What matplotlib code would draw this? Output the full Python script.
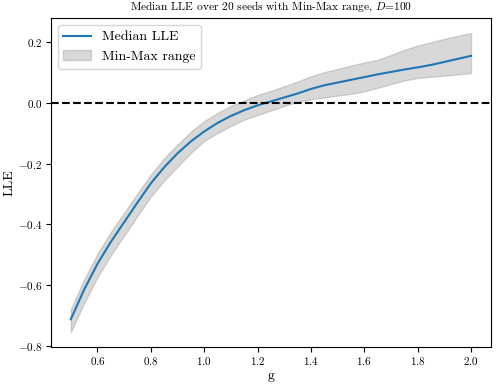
import matplotlib
matplotlib.use("Agg")
import matplotlib.pyplot as plt
import numpy as np

plt.rcParams['font.family'] = 'serif'
plt.rcParams['font.serif'] = ['cmr10', 'DejaVu Serif']
plt.rcParams['mathtext.fontset'] = 'cm'
plt.rcParams['axes.formatter.use_mathtext'] = True

g = np.round(np.arange(0.5, 2.0001, 0.05), 2)
median_lle = [-0.713, -0.615, -0.530, -0.458, -0.393, -0.328, -0.265, -0.212,
              -0.166, -0.127, -0.094, -0.066, -0.043, -0.024, -0.008, 0.005,
              0.018, 0.031, 0.046, 0.058, 0.067, 0.076, 0.085, 0.094, 0.102,
              0.110, 0.117, 0.125, 0.135, 0.145, 0.155]
min_lle = [-0.755, -0.660, -0.574, -0.502, -0.437, -0.372, -0.309, -0.256,
           -0.210, -0.165, -0.125, -0.099, -0.076, -0.055, -0.040, -0.025,
           -0.010, 0.004, 0.012, 0.018, 0.024, 0.030, 0.038, 0.050, 0.062,
           0.074, 0.082, 0.086, 0.090, 0.094, 0.098]
max_lle = [-0.680, -0.582, -0.497, -0.425, -0.362, -0.298, -0.236, -0.182,
           -0.137, -0.095, -0.060, -0.033, -0.010, 0.008, 0.026, 0.040,
           0.055, 0.070, 0.088, 0.101, 0.112, 0.123, 0.133, 0.142, 0.158,
           0.175, 0.189, 0.200, 0.211, 0.221, 0.230]

fig, ax = plt.subplots(figsize=(4.98, 3.86), dpi=100)
fig.subplots_adjust(left=0.102, right=0.986, top=0.953, bottom=0.101)

ax.plot(g, median_lle, color='#1f77b4', lw=1.5, label='Median LLE')
ax.fill_between(g, min_lle, max_lle, color='gray', alpha=0.3, label='Min-Max range')
ax.axhline(0, color='black', ls='--', lw=1.5)

ax.set_title('Median LLE over 20 seeds with Min-Max range, $D$=100', fontsize=8.2)
ax.set_xlabel('g', fontsize=10, labelpad=2)
ax.set_ylabel('LLE', fontsize=10, labelpad=2)
ax.tick_params(labelsize=8, pad=2.5)
ax.legend(loc='upper left', fontsize=10)

fig.savefig('out.png', dpi=100)
